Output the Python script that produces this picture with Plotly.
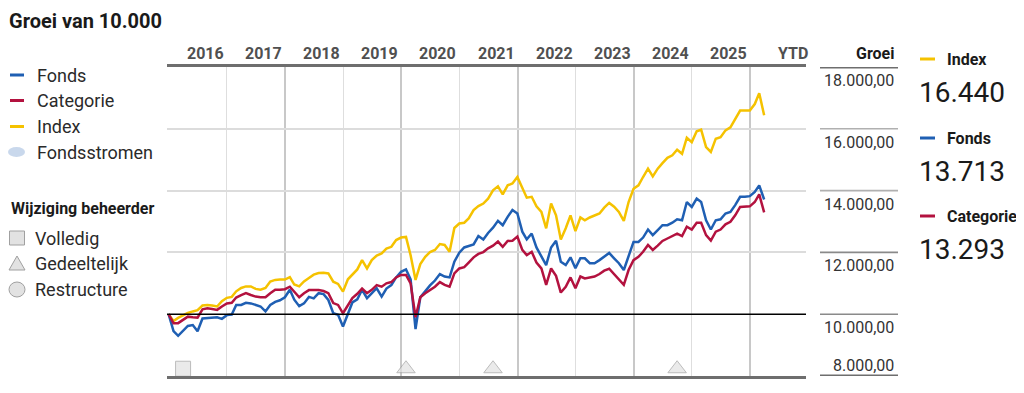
import pandas as pd
import plotly.graph_objects as go

# ---------------- data ----------------
dates = pd.date_range("2015-12-31", periods=124, freq="ME")

index_vals = [
    10000, 9780, 9880, 9960, 10040, 10090, 10130, 10280, 10300, 10280, 10250, 10420, 10530,
    10560, 10740, 10850, 10900, 10900, 10820, 10790, 10850, 11060, 11110, 11120, 11120,
    11200, 10960, 10900, 11060, 11170, 11280, 11330, 11340, 11320, 11050, 10980, 10730,
    11130, 11290, 11450, 11750, 11480, 11750, 11900, 11970, 12120, 12180, 12400, 12480,
    12500, 11910, 11110, 11620, 11860, 12010, 12080, 12270, 12240, 12020, 12790, 12935,
    12960, 13100, 13370, 13500, 13580, 13740, 14010, 14140, 13880, 14170, 14230, 14440,
    14100, 13770, 13800, 13490, 13310, 12780, 13580, 13200, 12420, 12780, 13200, 12690,
    13130, 13040, 13130, 13190, 13260, 13450, 13600, 13480, 13310, 13020, 13630, 14060,
    14170, 14440, 14710, 14460, 14710, 14890, 15060, 15140, 15320, 15190, 15710, 15570,
    15920, 15970, 15410, 15250, 15680, 15730, 15950, 16050, 16320, 16590, 16590, 16590,
    16800, 17150, 16440,
]
fonds_vals = [
    10000, 9450, 9300, 9480, 9620, 9650, 9450, 9860, 9880, 9880, 9900, 9850, 9970,
    9990, 10300, 10300, 10370, 10350, 10290, 10250, 10090, 10300, 10400, 10450, 10550,
    10790, 10470, 10260, 10350, 10560, 10510, 10680, 10650, 10460, 10030, 9980, 9600,
    10030, 10380, 10480, 10790, 10520, 10680, 10840, 10570, 10830, 10940, 11190, 11370,
    11450, 11130, 9520, 10550, 10760, 10930, 11090, 11300, 11220, 11190, 11700, 11990,
    12160, 12200, 12260, 12530, 12420, 12630, 12800, 13020, 12880, 13150, 13370, 13260,
    12670, 12420, 12610, 12160, 11860, 11590, 12160, 12380, 11700, 11590, 11840, 11490,
    11810, 11810, 11650, 11650, 11750, 11860, 11980, 11810, 11650, 11430, 11860, 12340,
    12340, 12480, 12740, 12560, 12720, 12880, 12880, 12960, 13070, 13040, 13630, 13470,
    13740, 13630, 13040, 12740, 13040, 13070, 13260, 13310, 13530, 13800, 13800, 13820,
    13960, 14170, 13713,
]
categorie_vals = [
    10000, 9710, 9710, 9830, 9920, 9900, 9890, 10160, 10190, 10170, 10140, 10250, 10350,
    10370, 10540, 10620, 10680, 10620, 10570, 10550, 10550, 10680, 10790, 10790, 10810,
    10890, 10730, 10550, 10680, 10780, 10780, 10780, 10750, 10680, 10360, 10300, 10030,
    10300, 10520, 10660, 10830, 10680, 10790, 10940, 10890, 11000, 11040, 11190, 11270,
    11270, 11000, 9900, 10550, 10680, 10790, 10890, 11040, 10950, 10890, 11320, 11480,
    11520, 11670, 11840, 11950, 12010, 12130, 12220, 12350, 12180, 12370, 12380, 12510,
    12080, 11910, 12020, 11670, 11480, 10950, 11480, 11240, 10700, 10890, 11190, 10840,
    11220, 11160, 11180, 11220, 11300, 11410, 11470, 11300, 11130, 10950, 11430, 11750,
    11860, 12020, 12240, 12080, 12220, 12370, 12450, 12530, 12610, 12530, 12830, 12740,
    12960, 12960, 12560, 12380, 12670, 12740, 12910, 12990, 13200, 13470, 13470, 13490,
    13630, 13880, 13293,
]

year_labels = ["2016", "2017", "2018", "2019", "2020", "2021", "2022", "2023", "2024", "2025"]
y_ticks = [8000, 10000, 12000, 14000, 16000, 18000]
y_tick_labels = ["8.000,00", "10.000,00", "12.000,00", "14.000,00", "16.000,00", "18.000,00"]

mgr_dates = ["2016-03-31", "2020-01-31", "2021-07-31", "2024-09-30"]
mgr_types = ["square", "triangle-up", "triangle-up", "triangle-up"]

final_labels = [("Index", "16.440"), ("Fonds", "13.713"), ("Categorie", "13.293")]

# ---------------- style ----------------
C_FONDS = "#1f5fb3"
C_CAT = "#b3123f"
C_INDEX = "#f5c200"
FONT = "Roboto, Liberation Sans Narrow, sans-serif"

OFF = 8  # page body margin of the html page
W, H = 1024 - OFF, 393 - OFF
L, R, T, B = 167 - OFF, 806 - OFF, 67 - OFF, 376 - OFF


def px(x):
    """reference screen x -> paper coordinate"""
    return ((x - OFF) - L) / (R - L)


def py(y):
    """reference screen y -> paper coordinate"""
    return (B - (y - OFF)) / (B - T)


fig = go.Figure()
fig.add_trace(go.Scatter(x=dates, y=index_vals, mode="lines", name="Index",
                         line=dict(color=C_INDEX, width=2.5), showlegend=False))
fig.add_trace(go.Scatter(x=dates, y=fonds_vals, mode="lines", name="Fonds",
                         line=dict(color=C_FONDS, width=2.5), showlegend=False))
fig.add_trace(go.Scatter(x=dates, y=categorie_vals, mode="lines", name="Categorie",
                         line=dict(color=C_CAT, width=2.5), showlegend=False))

# manager change markers
MARK_Y = 8235
fig.add_trace(go.Scatter(
    x=mgr_dates, y=[MARK_Y] * len(mgr_dates), mode="markers",
    marker=dict(symbol=mgr_types, size=[15, 16, 16, 16], color="#e2e2e2",
                line=dict(color="#a0a0a0", width=1)),
    cliponaxis=False, showlegend=False, hoverinfo="skip"))

even_years = [f"{y}-01-01" for y in range(2018, 2027, 2)]
odd_years = [f"{y}-01-01" for y in range(2017, 2027, 2)]

fig.update_xaxes(
    type="date",
    range=["2015-12-21", "2026-12-19"],
    tickvals=even_years, showticklabels=False, ticks="",
    showgrid=True, gridcolor="#c8c8c8", gridwidth=2,
    minor=dict(tickvals=odd_years, showgrid=True, gridcolor="#dedede", gridwidth=1.2, ticks=""),
    showline=True, mirror=True, linecolor="#6e6e6e", linewidth=3,
    zeroline=False,
)
fig.update_yaxes(
    range=[8000, 18000], tickvals=[12000, 14000, 16000], showticklabels=False,
    showgrid=True, gridcolor="#dcdcdc", gridwidth=1.5, zeroline=False, showline=False,
)

shapes = []
# baseline 10.000
shapes.append(dict(type="line", xref="paper", yref="y", x0=0, x1=1, y0=10000, y1=10000,
                   line=dict(color="#000000", width=1.6), layer="above"))
# right-side axis segments
for v in y_ticks:
    thick = v in (8000, 18000)
    col = "#6e6e6e" if thick else ("#8a8a8a" if v <= 12000 else "#b0b0b0")
    shapes.append(dict(type="line", xref="paper", yref="y", x0=px(820), x1=px(898), y0=v, y1=v,
                       line=dict(color=col, width=3 if thick else 1.6)))

annotations = []
# title (anchored to the top edge of the figure so it is not clipped)
annotations.append(dict(text="<b>Groei van 10.000</b>", xref="paper", yref="paper",
                        x=px(8), y=py(OFF), xanchor="left", yanchor="top", showarrow=False,
                        borderpad=0, font=dict(family=FONT, size=20, color="#1a1a1a")))
# year labels (right aligned at year end)
for lab in year_labels:
    annotations.append(dict(text=f"<b>{lab}</b>", xref="x", yref="paper",
                            x=f"{int(lab) + 1}-01-01", y=py(53), xanchor="right", yanchor="middle",
                            xshift=-1, showarrow=False,
                            font=dict(family=FONT, size=16, color="#505050")))
annotations.append(dict(text="<b>YTD</b>", xref="paper", yref="paper", x=px(810), y=py(53),
                        xanchor="right", yanchor="middle", showarrow=False,
                        font=dict(family=FONT, size=16, color="#505050")))
annotations.append(dict(text="<b>Groei</b>", xref="paper", yref="paper", x=px(896), y=py(53),
                        xanchor="right", yanchor="middle", showarrow=False,
                        font=dict(family=FONT, size=16, color="#1a1a1a")))
# right axis labels
for v, lab in zip(y_ticks, y_tick_labels):
    if v == 8000:
        annotations.append(dict(text=lab, xref="paper", yref="y", x=px(896), y=v, xanchor="right",
                                yanchor="bottom", yshift=-1, showarrow=False,
                                font=dict(family=FONT, size=16, color="#333333")))
    else:
        annotations.append(dict(text=lab, xref="paper", yref="y", x=px(896), y=v, xanchor="right",
                                yanchor="top", yshift=-2, showarrow=False,
                                font=dict(family=FONT, size=16, color="#333333")))

# left legend
leg_items = [("Fonds", C_FONDS, 75), ("Categorie", C_CAT, 100.5), ("Index", C_INDEX, 126.5)]
for name, col, yy in leg_items:
    shapes.append(dict(type="line", xref="paper", yref="paper", x0=px(10), x1=px(24),
                       y0=py(yy), y1=py(yy), line=dict(color=col, width=3)))
    annotations.append(dict(text=name, xref="paper", yref="paper", x=px(35), y=py(yy),
                            xanchor="left", yanchor="middle", showarrow=False,
                            font=dict(family=FONT, size=18, color="#2a2a2a")))
shapes.append(dict(type="circle", xref="paper", yref="paper", x0=px(8), x1=px(25),
                   y0=py(157), y1=py(147), fillcolor="#c9d8ec", line=dict(width=0)))
annotations.append(dict(text="Fondsstromen", xref="paper", yref="paper", x=px(35), y=py(152),
                        xanchor="left", yanchor="middle", showarrow=False,
                        font=dict(family=FONT, size=18, color="#2a2a2a")))
annotations.append(dict(text="<b>Wijziging beheerder</b>", xref="paper", yref="paper", x=px(9),
                        y=py(208), xanchor="left", yanchor="middle", showarrow=False,
                        font=dict(family=FONT, size=16, color="#1a1a1a")))
# symbols
shapes.append(dict(type="rect", xref="paper", yref="paper", x0=px(9.5), x1=px(24.5),
                   y0=py(245), y1=py(231), fillcolor="#e2e2e2", line=dict(color="#a0a0a0", width=1)))
shapes.append(dict(type="path", xref="paper", yref="paper",
                   path=f"M {px(9)},{py(270)} L {px(25)},{py(270)} L {px(17)},{py(256)} Z",
                   fillcolor="#e2e2e2", line=dict(color="#a0a0a0", width=1)))
shapes.append(dict(type="circle", xref="paper", yref="paper", x0=px(9), x1=px(25),
                   y0=py(297), y1=py(282), fillcolor="#e2e2e2", line=dict(color="#a0a0a0", width=1)))
for name, yy in [("Volledig", 238), ("Gedeeltelijk", 263.5), ("Restructure", 289.5)]:
    annotations.append(dict(text=name, xref="paper", yref="paper", x=px(33), y=py(yy),
                            xanchor="left", yanchor="middle", showarrow=False,
                            font=dict(family=FONT, size=18, color="#2a2a2a")))

# right legend with final values
right_cols = {"Index": C_INDEX, "Fonds": C_FONDS, "Categorie": C_CAT}
for (name, val), ly, vy in zip(final_labels, [59, 138, 216], [92, 171, 249]):
    shapes.append(dict(type="line", xref="paper", yref="paper", x0=px(920), x1=px(935),
                       y0=py(ly), y1=py(ly), line=dict(color=right_cols[name], width=3)))
    annotations.append(dict(text=f"<b>{name}</b>", xref="paper", yref="paper", x=px(945), y=py(ly),
                            xanchor="left", yanchor="middle", showarrow=False,
                            font=dict(family=FONT, size=16, color="#1a1a1a")))
    annotations.append(dict(text=val, xref="paper", yref="paper", x=px(917), y=py(vy),
                            xanchor="left", yanchor="middle", showarrow=False,
                            font=dict(family=FONT, size=28, color="#1a1a1a")))

fig.update_layout(
    width=W, height=H,
    margin=dict(l=L, r=W - R, t=T, b=H - B),
    paper_bgcolor="white", plot_bgcolor="white",
    shapes=shapes, annotations=annotations,
    font=dict(family=FONT),
    showlegend=False,
)

fig.write_html("out.html")
